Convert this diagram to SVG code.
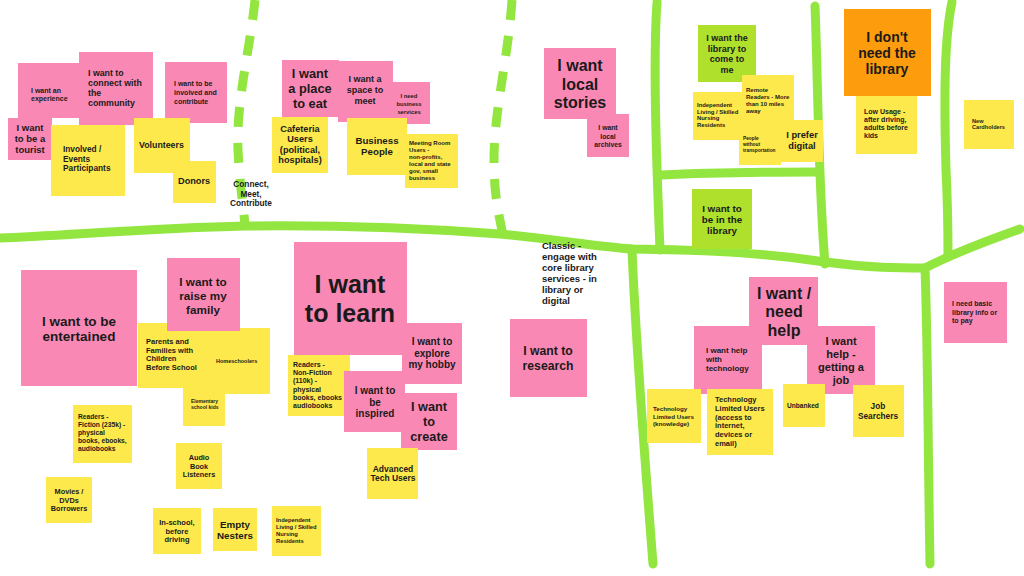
<svg xmlns="http://www.w3.org/2000/svg" width="1024" height="576" viewBox="0 0 1024 576">
<defs>
<style>
.ln{fill:none;stroke:#93e63f;stroke-width:9;stroke-linecap:round;stroke-linejoin:round}
.ds{stroke-dasharray:20 16;stroke-linecap:butt}
.p{fill:#fa88b4}
.y{fill:#fde94b}
.g{fill:#afe02c}
.o{fill:#fd9d0d}
text{font-family:"Liberation Sans","Open Sans",Arial,sans-serif;font-weight:700;fill:#1a1a1a}
.c{text-anchor:middle}
</style>
</defs>
<rect width="1024" height="576" fill="#ffffff"/>

<g id="dividers">
<path class="ln" d="M0,238 C60,236 150,228 245,226 C330,225 420,228 500,234 C560,240 600,247 632,249 C700,250 760,252 825,262 C870,268 900,268 925,268"/>
<path class="ln" d="M925,268 C960,250 990,240 1020,229"/>
<path class="ln" d="M952,2 C944,40 944,100 946,170 C948,210 948,240 948,256"/>
<path class="ln" d="M925,268 C928,350 928,460 930,564"/>
<path class="ln" d="M632,249 C636,350 645,460 653,564"/>
<path class="ln" d="M657,2 C653,60 656,150 660,250"/>
<path class="ln" d="M815,6 C818,80 818,180 825,264"/>
<path class="ln" d="M662,175 C720,172 770,172 818,172"/>
<path class="ln ds" d="M255,0 C250,50 236,100 238,150 C240,190 244,210 245,226"/>
<path class="ln ds" d="M512,0 C508,60 494,110 494,160 C494,200 500,218 503,236"/>
</g>

<g id="n-experience"><rect class="p" x="18" y="63" width="62" height="55"/><text font-size="7"><tspan x="31" y="93">I want an</tspan><tspan x="31" y="101">experience</tspan></text></g>
<g id="n-connect"><rect class="p" x="79" y="52" width="74" height="73"/><text font-size="8.8"><tspan x="88" y="76">I want to</tspan><tspan x="88" y="86">connect with</tspan><tspan x="88" y="96">the</tspan><tspan x="88" y="106">community</tspan></text></g>
<g id="n-tourist"><rect class="p" x="8" y="118" width="44" height="42"/><text class="c" font-size="9.5"><tspan x="30" y="131">I want</tspan><tspan x="30" y="142">to be a</tspan><tspan x="30" y="153">tourist</tspan></text></g>
<g id="n-involved-events"><rect class="y" x="51" y="125" width="74" height="71"/><text font-size="8.3"><tspan x="63" y="152">Involved /</tspan><tspan x="63" y="161.5">Events</tspan><tspan x="63" y="171">Participants</tspan></text></g>
<g id="n-involved-contribute"><rect class="p" x="165" y="62" width="62" height="61"/><text font-size="7"><tspan x="174" y="86">I want to be</tspan><tspan x="174" y="95">involved and</tspan><tspan x="174" y="104">contribute</tspan></text></g>
<g id="n-volunteers"><rect class="y" x="134" y="118" width="56" height="55"/><text font-size="8.8"><tspan x="139" y="148">Volunteers</tspan></text></g>
<g id="n-donors"><rect class="y" x="173" y="161" width="43" height="42"/><text font-size="9.2"><tspan x="178" y="184">Donors</tspan></text></g>
<g id="t-connect"><text class="c" font-size="8.3"><tspan x="251" y="187">Connect,</tspan><tspan x="251" y="196.5">Meet,</tspan><tspan x="251" y="206">Contribute</tspan></text></g>

<g id="n-eat"><rect class="p" x="282" y="60" width="57" height="57"/><text class="c" font-size="12.8"><tspan x="310" y="78">I want</tspan><tspan x="310" y="93">a place</tspan><tspan x="310" y="108">to eat</tspan></text></g>
<g id="n-meet"><rect class="p" x="338" y="61" width="55" height="61"/><text class="c" font-size="9"><tspan x="365" y="82">I want a</tspan><tspan x="365" y="93">space to</tspan><tspan x="365" y="104">meet</tspan></text></g>
<g id="n-business-services"><rect class="p" x="388" y="82" width="42" height="42"/><text class="c" font-size="5.8"><tspan x="409" y="98">I need</tspan><tspan x="409" y="106">business</tspan><tspan x="409" y="114">services</tspan></text></g>
<g id="n-cafeteria"><rect class="y" x="272" y="117" width="56" height="56"/><text class="c" font-size="9.2"><tspan x="300" y="131.5">Cafeteria</tspan><tspan x="300" y="142">Users</tspan><tspan x="300" y="152.5">(political,</tspan><tspan x="300" y="163">hospitals)</tspan></text></g>
<g id="n-business-people"><rect class="y" x="347" y="118" width="60" height="57"/><text class="c" font-size="9.7"><tspan x="377" y="144">Business</tspan><tspan x="377" y="155">People</tspan></text></g>
<g id="n-meeting-room"><rect class="y" x="405" y="134" width="53" height="54"/><text font-size="6"><tspan x="409" y="145">Meeting Room</tspan><tspan x="409" y="152">Users -</tspan><tspan x="409" y="159">non-profits,</tspan><tspan x="409" y="166">local and state</tspan><tspan x="409" y="173">gov, small</tspan><tspan x="409" y="180">business</tspan></text></g>

<g id="n-local-stories"><rect class="p" x="544" y="48" width="72" height="71"/><text class="c" font-size="16"><tspan x="580" y="71">I want</tspan><tspan x="580" y="89.5">local</tspan><tspan x="580" y="108">stories</tspan></text></g>
<g id="n-local-archives"><rect class="p" x="587" y="114" width="42" height="43"/><text class="c" font-size="6.8"><tspan x="608" y="130">I want</tspan><tspan x="608" y="138.5">local</tspan><tspan x="608" y="147">archives</tspan></text></g>

<g id="n-come-to-me"><rect class="g" x="698" y="25" width="58" height="57"/><text class="c" font-size="9"><tspan x="727" y="41">I want the</tspan><tspan x="727" y="51.5">library to</tspan><tspan x="727" y="62">come to</tspan><tspan x="727" y="72.5">me</tspan></text></g>
<g id="n-independent-top"><rect class="y" x="693" y="92" width="50" height="48"/><text font-size="5.9"><tspan x="697" y="107">Independent</tspan><tspan x="697" y="113.7">Living / Skilled</tspan><tspan x="697" y="120.4">Nursing</tspan><tspan x="697" y="127.1">Residents</tspan></text></g>
<g id="n-remote"><rect class="y" x="742" y="75" width="52" height="55"/><text font-size="6"><tspan x="746" y="92">Remote</tspan><tspan x="746" y="99">Readers - More</tspan><tspan x="746" y="106">than 10 miles</tspan><tspan x="746" y="113">away</tspan></text></g>
<g id="n-no-transport"><rect class="y" x="739" y="120" width="42" height="45"/><text font-size="4.8"><tspan x="743" y="140">People</tspan><tspan x="743" y="146">without</tspan><tspan x="743" y="152">transportation</tspan></text></g>
<g id="n-digital"><rect class="y" x="780" y="120" width="43" height="42"/><text class="c" font-size="9.3"><tspan x="802" y="138">I prefer</tspan><tspan x="802" y="149">digital</tspan></text></g>
<g id="n-in-library"><rect class="g" x="692" y="189" width="60" height="60"/><text class="c" font-size="9.8"><tspan x="722" y="212">I want to</tspan><tspan x="722" y="223">be in the</tspan><tspan x="722" y="234">library</tspan></text></g>

<g id="n-dont-need"><rect class="o" x="844" y="9" width="87" height="87"/><text class="c" font-size="14"><tspan x="887" y="42">I don't</tspan><tspan x="887" y="58">need the</tspan><tspan x="887" y="74">library</tspan></text></g>
<g id="n-low-usage"><rect class="y" x="856" y="96" width="61" height="58"/><text font-size="7"><tspan x="864" y="114">Low Usage -</tspan><tspan x="864" y="122">after driving,</tspan><tspan x="864" y="130">adults before</tspan><tspan x="864" y="138">kids</tspan></text></g>
<g id="n-new-cardholders"><rect class="y" x="964" y="100" width="50" height="49"/><text font-size="5.6"><tspan x="972" y="122.5">New</tspan><tspan x="972" y="129">Cardholders</tspan></text></g>
<g id="n-basic-info"><rect class="p" x="944" y="282" width="63" height="61"/><text font-size="7"><tspan x="952" y="306">I need basic</tspan><tspan x="952" y="314.5">library info or</tspan><tspan x="952" y="323">to pay</tspan></text></g>

<g id="n-classic"><text font-size="9.5"><tspan x="542" y="249">Classic -</tspan><tspan x="542" y="260">engage with</tspan><tspan x="542" y="271">core library</tspan><tspan x="542" y="282">services - in</tspan><tspan x="542" y="293">library or</tspan><tspan x="542" y="304">digital</tspan></text></g>

<g id="n-entertained"><rect class="p" x="21" y="270" width="116" height="116"/><text class="c" font-size="13.5"><tspan x="79" y="326">I want to be</tspan><tspan x="79" y="341.2">entertained</tspan></text></g>
<g id="n-parents"><rect class="y" x="138" y="323" width="67" height="65"/><text font-size="7.5"><tspan x="146" y="344">Parents and</tspan><tspan x="146" y="352.7">Families with</tspan><tspan x="146" y="361.4">Children</tspan><tspan x="146" y="370.1">Before School</tspan></text></g>
<g id="n-homeschoolers"><rect class="y" x="204" y="328" width="66" height="66"/><text font-size="5.5"><tspan x="216" y="363">Homeschoolers</tspan></text></g>
<g id="n-raise-family"><rect class="p" x="167" y="258" width="73" height="73"/><text class="c" font-size="11.7"><tspan x="203" y="286">I want to</tspan><tspan x="203" y="300">raise my</tspan><tspan x="203" y="314">family</tspan></text></g>
<g id="n-elementary"><rect class="y" x="183" y="388" width="42" height="38"/><text font-size="5"><tspan x="191" y="403">Elementary</tspan><tspan x="191" y="409">school kids</tspan></text></g>
<g id="n-fiction"><rect class="y" x="73" y="405" width="59" height="58"/><text font-size="6.7"><tspan x="78" y="419">Readers -</tspan><tspan x="78" y="427">Fiction (235k) -</tspan><tspan x="78" y="435">physical</tspan><tspan x="78" y="443">books, ebooks,</tspan><tspan x="78" y="451">audiobooks</tspan></text></g>
<g id="n-movies"><rect class="y" x="46" y="477" width="46" height="46"/><text class="c" font-size="7.3"><tspan x="69" y="494">Movies /</tspan><tspan x="69" y="502.5">DVDs</tspan><tspan x="69" y="511">Borrowers</tspan></text></g>
<g id="n-audio"><rect class="y" x="176" y="443" width="46" height="46"/><text class="c" font-size="7.3"><tspan x="199" y="460">Audio</tspan><tspan x="199" y="468.5">Book</tspan><tspan x="199" y="477">Listeners</tspan></text></g>
<g id="n-in-school"><rect class="y" x="153" y="508" width="48" height="46"/><text class="c" font-size="7.5"><tspan x="177" y="525">In-school,</tspan><tspan x="177" y="533.5">before</tspan><tspan x="177" y="542">driving</tspan></text></g>
<g id="n-empty-nesters"><rect class="y" x="213" y="508" width="44" height="43"/><text class="c" font-size="9.8"><tspan x="235" y="528">Empty</tspan><tspan x="235" y="539">Nesters</tspan></text></g>
<g id="n-independent-bottom"><rect class="y" x="272" y="506" width="49" height="50"/><text font-size="5.8"><tspan x="276" y="522">Independent</tspan><tspan x="276" y="529">Living / Skilled</tspan><tspan x="276" y="536">Nursing</tspan><tspan x="276" y="543">Residents</tspan></text></g>

<g id="n-learn"><rect class="p" x="294" y="242" width="113" height="113"/><text class="c" font-size="25"><tspan x="350" y="293">I want</tspan><tspan x="350" y="322">to learn</tspan></text></g>
<g id="n-nonfiction"><rect class="y" x="288" y="355" width="62" height="61"/><text font-size="7"><tspan x="293" y="367">Readers -</tspan><tspan x="293" y="375.2">Non-Fiction</tspan><tspan x="293" y="383.4">(110k) -</tspan><tspan x="293" y="391.6">physical</tspan><tspan x="293" y="399.8">books, ebooks</tspan><tspan x="293" y="408">audiobooks</tspan></text></g>
<g id="n-hobby"><rect class="p" x="402" y="323" width="60" height="61"/><text class="c" font-size="10"><tspan x="432" y="345">I want to</tspan><tspan x="432" y="356.5">explore</tspan><tspan x="432" y="368">my hobby</tspan></text></g>
<g id="n-inspired"><rect class="p" x="344" y="371" width="61" height="61"/><text class="c" font-size="10"><tspan x="375" y="394">I want to</tspan><tspan x="375" y="405.5">be</tspan><tspan x="375" y="417">inspired</tspan></text></g>
<g id="n-create"><rect class="p" x="401" y="393" width="56" height="57"/><text class="c" font-size="12.7"><tspan x="429" y="411">I want</tspan><tspan x="429" y="426">to</tspan><tspan x="429" y="441">create</tspan></text></g>
<g id="n-advanced-tech"><rect class="y" x="367" y="448" width="51" height="51"/><text class="c" font-size="8.5"><tspan x="393" y="471.5">Advanced</tspan><tspan x="393" y="481.3">Tech Users</tspan></text></g>
<g id="n-research"><rect class="p" x="510" y="319" width="77" height="78"/><text class="c" font-size="12.2"><tspan x="548" y="355">I want to</tspan><tspan x="548" y="370">research</tspan></text></g>

<g id="n-need-help"><rect class="p" x="749" y="277" width="69" height="68"/><text class="c" font-size="16"><tspan x="784" y="299">I want /</tspan><tspan x="784" y="317">need</tspan><tspan x="784" y="336">help</tspan></text></g>
<g id="n-help-tech"><rect class="p" x="694" y="326" width="68" height="68"/><text font-size="8"><tspan x="706" y="353">I want help</tspan><tspan x="706" y="362">with</tspan><tspan x="706" y="371">technology</tspan></text></g>
<g id="n-help-job"><rect class="p" x="807" y="326" width="68" height="68"/><text class="c" font-size="11"><tspan x="841" y="345">I want</tspan><tspan x="841" y="358">help -</tspan><tspan x="841" y="371">getting a</tspan><tspan x="841" y="383.5">job</tspan></text></g>
<g id="n-tech-knowledge"><rect class="y" x="647" y="389" width="54" height="54"/><text font-size="6.2"><tspan x="653" y="411">Technology</tspan><tspan x="653" y="418.5">Limited Users</tspan><tspan x="653" y="426">(knowledge)</tspan></text></g>
<g id="n-tech-access"><rect class="y" x="707" y="389" width="66" height="66"/><text font-size="7.5"><tspan x="715" y="402">Technology</tspan><tspan x="715" y="410.8">Limited Users</tspan><tspan x="715" y="419.6">(access to</tspan><tspan x="715" y="428.4">internet,</tspan><tspan x="715" y="437.2">devices or</tspan><tspan x="715" y="446">email)</tspan></text></g>
<g id="n-unbanked"><rect class="y" x="783" y="384" width="42" height="43"/><text font-size="6.6"><tspan x="787" y="408">Unbanked</tspan></text></g>
<g id="n-job-searchers"><rect class="y" x="853" y="385" width="51" height="52"/><text class="c" font-size="8.3"><tspan x="878" y="409">Job</tspan><tspan x="878" y="419">Searchers</tspan></text></g>
</svg>
